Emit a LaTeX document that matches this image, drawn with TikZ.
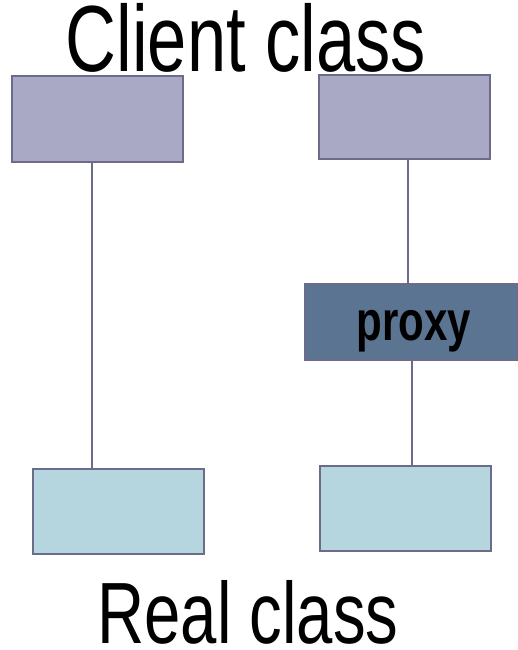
\documentclass[tikz,border=0pt]{standalone}
\usepackage{fontspec}
\newfontfamily\narrowsans{Liberation Sans}[FakeStretch=0.75]
\definecolor{edgegray}{HTML}{6C6C8A}
\definecolor{clientfill}{HTML}{A9A9C6}
\definecolor{realfill}{HTML}{B5D5DF}
\definecolor{proxyfill}{HTML}{5A7491}

\begin{document}
\begin{tikzpicture}[x=1pt,y=-1pt,
    cls/.style={draw=edgegray,line width=2.6pt,minimum width=171pt,inner sep=0pt},
    link/.style={draw=edgegray,line width=2.4pt},
    caption/.style={anchor=base,inner sep=0pt,font=\narrowsans}]
\useasboundingbox (0,0) rectangle (518,650);

\node (client) [caption,font=\narrowsans\fontsize{94}{94}\selectfont] at (246,72) {Client class};
\node (real) [caption,font=\narrowsans\fontsize{87}{87}\selectfont] at (248,643) {Real class};

\node (c1) [cls,fill=clientfill,minimum height=86pt] at (97.5,119) {};
\node (c2) [cls,fill=clientfill,minimum height=84pt] at (404.5,117) {};
\node (px) [cls,fill=proxyfill,minimum width=212pt,minimum height=76pt,
    text height=36pt,text depth=0pt,
    font=\narrowsans\bfseries\fontsize{56}{56}\selectfont] at (411,322) {\hspace*{6pt}proxy};
\node (r1) [cls,fill=realfill,minimum height=85pt] at (118.5,511.5) {};
\node (r2) [cls,fill=realfill,minimum height=85pt] at (405.5,508.5) {};

\coordinate (lk1) at (92,0);
\coordinate (lk2) at (408,0);
\coordinate (lk3) at (412,0);
\draw[link] (c1.south -| lk1) -- (r1.north -| lk1);
\draw[link] (c2.south -| lk2) -- (px.north -| lk2);
\draw[link] (px.south -| lk3) -- (r2.north -| lk3);
\end{tikzpicture}
\end{document}
